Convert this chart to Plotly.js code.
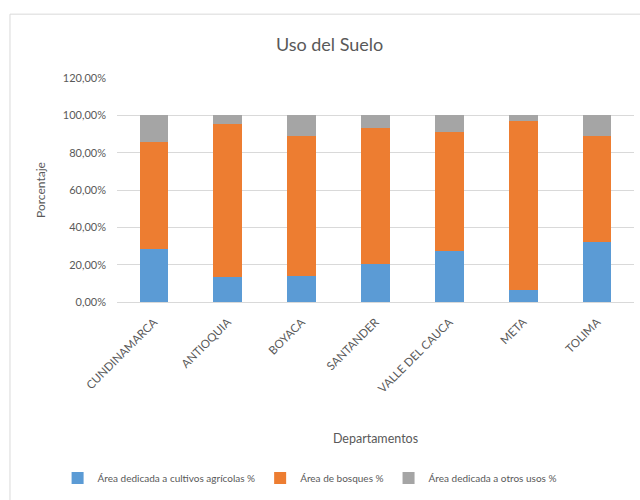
<!DOCTYPE html>
<html>
<head>
<meta charset="utf-8">
<script src="https://cdn.plot.ly/plotly-3.0.1.min.js"></script>
<style>html,body{margin:0;padding:0;background:#fff;}#chart{width:640px;height:500px;}</style>
</head>
<body>
<div id="chart"></div>
<script>
const departamentos = ["CUNDINAMARCA","ANTIOQUIA","BOYACA","SANTANDER","VALLE DEL CAUCA","META","TOLIMA"];
const cultivos = [0.286, 0.136, 0.141, 0.201, 0.275, 0.063, 0.323];
const bosques  = [0.571, 0.819, 0.748, 0.730, 0.635, 0.907, 0.568];
const otros    = [0.143, 0.045, 0.111, 0.069, 0.090, 0.030, 0.109];
const seriesNames = ["Área dedicada a cultivos agrícolas %","Área de bosques %","Área dedicada a otros usos %"];
const colors = ["#5B9BD5","#ED7D31","#A5A5A5"];

const font = "Lato, 'Open Sans', sans-serif";
const traces = [cultivos, bosques, otros].map((v,i)=>({
  type:'bar', x:departamentos, y:v, name:seriesNames[i],
  marker:{color:colors[i]}, hoverinfo:'skip'
}));

const layout = {
  width:640, height:500,
  barmode:'stack', bargap:0.61,
  separators:',.',
  paper_bgcolor:'#fff', plot_bgcolor:'#fff',
  margin:{l:117, r:6, t:78, b:198},
  font:{family:font, color:'#595959'},
  title:{text:'Uso del Suelo', x:0.515, xref:'container', xanchor:'center', y:0.91, yref:'container', yanchor:'middle', font:{size:18, color:'#595959', family:font}},
  xaxis:{
    tickangle:-45, tickfont:{size:11.5, color:'#595959'},
    showline:true, linecolor:'#D9D9D9', ticks:'', ticklabelstandoff:8,
    title:{text:'Departamentos', font:{size:12.5, color:'#595959'}, standoff:40}
  },
  yaxis:{
    range:[0,1.2], dtick:0.2, tickformat:'.2%',
    gridcolor:'#D9D9D9', zeroline:false, showline:false,
    tickfont:{size:11, color:'#595959'}, ticks:'', ticklen:0, ticklabelstandoff:10,
    title:{text:'Porcentaje', font:{size:12, color:'#595959'}, standoff:14}
  },
  legend:{orientation:'h', x:0.09, xanchor:'left', xref:'container', y:0.044, yref:'container', yanchor:'middle',
    font:{size:10, color:'#595959'}, traceorder:'normal', itemwidth:20},
  shapes:[
    {type:'line', xref:'paper', yref:'paper', x0:-0.207, x1:-0.207, y0:-1.0, y1:1.285, line:{color:'#D9D9D9', width:1}},
    {type:'line', xref:'paper', yref:'paper', x0:-0.207, x1:1.02, y0:1.285, y1:1.285, line:{color:'#D9D9D9', width:1}}
  ]
};
Plotly.newPlot('chart', traces, layout, {displayModeBar:false, staticPlot:true});
</script>
</body>
</html>
